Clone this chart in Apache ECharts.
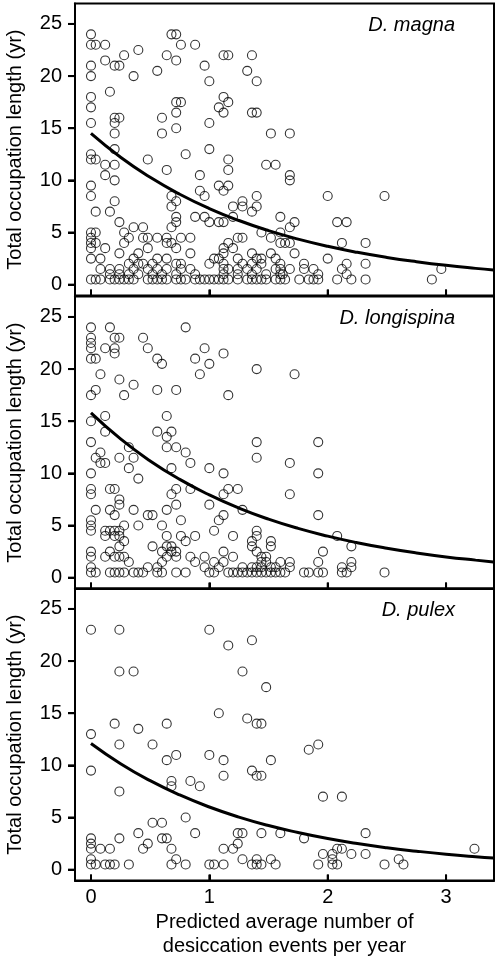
<!DOCTYPE html>
<html>
<head>
<meta charset="utf-8">
<script src="https://cdn.jsdelivr.net/npm/echarts@6/dist/echarts.min.js"></script>
<style>
html,body{margin:0;padding:0;background:#fff;}
#c{width:498px;height:973px;}
</style>
</head>
<body>
<div id="c"></div>
<script>
// ---- data ----
const panelNames = ['D. magna', 'D. longispina', 'D. pulex'];
const yTicks = [0, 5, 10, 15, 20, 25];
const xTicks = [0, 1, 2, 3];
const yTitle = 'Total occupation length (yr)';
const xTitle = 'Predicted average number of\ndesiccation events per year';

const magnaPoints = [
[0,24],[0.68,24],[0.72,24],
[0,23],[0.04,23],[0.12,23],[0.76,23],[0.88,23],
[0.4,22.5],
[0.28,22],[0.64,22],[1.12,22],[1.16,22],[1.36,22],
[0.12,21.5],[0.72,21.5],
[0,21],[0.2,21],[0.24,21],[0.96,21],
[0.56,20.5],[1.32,20.5],
[0,20],[0.36,20],
[1.0,19.5],[1.4,19.5],
[0.16,18.5],
[0,18],[1.12,18],
[0.72,17.5],[0.76,17.5],[1.16,17.5],
[0,17],[1.08,17],
[0.72,16.5],[1.12,16.5],[1.36,16.5],[1.4,16.5],
[0.2,16],[0.24,16],[0.6,16],
[0,15.5],[0.2,15.5],[1.0,15.5],
[0.72,15],
[0.2,14.5],[0.6,14.5],[1.52,14.5],[1.68,14.5],
[0.2,13],[1.0,13],
[0,12.5],[0.8,12.5],
[0,12],[0.04,12],[0.12,11.5],[0.2,11.5],[0.48,12],[1.16,12],[0.64,11],[1.16,11],[1.48,11.5],[1.56,11.5],
[0.12,10.5],[0.2,10],[0.92,10.5],[0,9.5],[1.08,9.5],[1.16,9.5],[0.92,9],[1.12,9],
[0,8.5],[0.68,8.5],[0.96,8.5],[1.4,8.5],[0.2,8],[0.72,8],[1.28,8],
[0.68,7.5],[1.2,7.5],[1.28,7.5],[1.4,7.5],[0.04,7],[0.16,7],[1.36,7],
[0.72,6.5],[0.88,6.5],[0.96,6.5],[1.2,6.5],[1.6,6.5],
[0.24,6],[0.72,6],[1.0,6],[1.08,6],[1.12,6],
[0.36,5.5],[0.44,5.5],[0.68,5.5],
[0,5],[0.04,5],[0.28,5],[1.44,5],[1.6,5],
[0,4.5],[0.32,4.5],[0.44,4.5],[0.48,4.5],[0.56,4.5],[0.64,4.5],[0.76,4.5],[0.84,4.5],[1.24,4.5],[1.28,4.5],[1.52,4.5],
[0,4],[0.04,4],[0.28,4],[0.64,4],[0.68,4],[1.16,4],[1.6,4],
[0,3.5],[0.12,3.5],[0.48,3.5],[0.72,3.5],[1.12,3.5],[1.2,3.5],
[0.24,3],[0.4,3],[0.84,3],[1.12,3],[1.36,3],[1.52,3],
[0,2.5],[0.08,2.5],[0.36,2.5],[0.56,2.5],[0.64,2.5],[1.04,2.5],[1.08,2.5],[1.24,2.5],[1.4,2.5],[1.44,2.5],[1.56,2.5],
[0.32,2],[0.4,2],[0.44,2],[0.52,2],[0.72,2],[0.76,2],[1.0,2],[1.12,2],[1.28,2],[1.36,2],[1.44,2],[1.6,2],
[0.08,1.5],[0.16,1.5],[0.24,1.5],[0.36,1.5],[0.48,1.5],[0.56,1.5],[0.64,1.5],[0.76,1.5],[0.84,1.5],[1.12,1.5],[1.16,1.5],[1.24,1.5],[1.32,1.5],[1.4,1.5],[1.56,1.5],[1.6,1.5],
[0.16,1],[0.24,1],[0.32,1],[0.4,1],[0.52,1],[0.6,1],[0.72,1],[0.88,1],[1.12,1],[1.24,1],[1.36,1],[1.48,1],[1.6,1],
[0,0.5],[0.04,0.5],[0.08,0.5],[0.16,0.5],[0.2,0.5],[0.24,0.5],[0.28,0.5],[0.32,0.5],[0.36,0.5],[0.48,0.5],[0.52,0.5],[0.56,0.5],[0.6,0.5],[0.64,0.5],[0.72,0.5],[0.76,0.5],[0.8,0.5],[0.88,0.5],[0.92,0.5],[0.96,0.5],[1.0,0.5],[1.04,0.5],[1.08,0.5],[1.12,0.5],[1.16,0.5],[1.24,0.5],[1.32,0.5],[1.36,0.5],[1.4,0.5],[1.44,0.5],[1.48,0.5],[1.56,0.5],[1.6,0.5],
[1.68,10.5],[1.68,10],[2.0,8.5],[2.48,8.5],[1.72,6],[1.68,5.5],[2.08,6],[2.16,6],[1.64,4],[1.68,4],[2.12,4],[2.32,4],[1.72,3],[2.0,2.5],[1.68,1.5],[1.8,2],[1.8,1.5],[1.88,1.5],[1.92,1],[2.16,2],[2.12,1.5],[2.16,1],[2.32,2],[2.96,1.5],[1.62,1],
[1.64,0.5],[1.76,0.5],[1.84,0.5],[1.88,0.5],[1.92,0.5],[2.08,0.5],[2.2,0.5],[2.32,0.5],[2.88,0.5]
];

const longispinaPoints = [
[0,24],[0.16,24],[0.8,24],
[0,23],[0.2,23],[0.24,23],[0.44,23],
[0,22.5],
[0,22],[0.12,22],[0.2,22],[0.48,22],[0.96,22],
[0.2,21.5],[1.12,21.5],
[0,21],[0.04,21],[0.56,21],[0.88,21],
[0.6,20.5],[1.0,20.5],
[1.4,20],
[0.08,19.5],[0.92,19.5],[1.72,19.5],
[0.24,19],
[0.36,18.5],
[0.04,18],[0.56,18],[0.72,18],
[0,17.5],[0.28,17.5],[1.16,17.5],
[0.12,15.5],[0.64,15.5],
[0,15],
[0.12,14],[0.56,14],[0.68,14],
[0.64,13.5],
[0,13],[1.4,13],[1.92,13],
[0.08,12],[0.64,12.5],[0.72,12.5],[0.8,12],[0.32,12.5],
[0.04,11.5],[0.08,11],[0.12,11],[0.24,11.5],[0.36,11.5],[0.84,11],[1.4,11.5],
[0.32,10.5],[0.68,10.5],[1.0,10.5],[0,10],[1.12,10],[0.4,9.5],
[0,8.5],[0,8],[0.16,8.5],[0.2,8.5],[0.72,8.5],[0.84,8.5],[1.16,8.5],[1.24,8.5],
[0.68,8],[1.12,8],[0.24,7.5],[0.24,7],[0.72,7],[1.0,7],
[0.04,6.5],[0.16,6.5],[0.36,6.5],[0.64,6.5],[1.28,6.5],
[0.2,6],[0.48,6],[0.52,6],[1.12,6],
[0,5.5],[0.76,5.5],[1.08,5.5],
[0,5],[0.28,5],[0.4,5],[0.6,5],
[0,4.5],[0.12,4.5],[0.16,4.5],[0.2,4.5],[0.24,4.5],[1.04,4.5],[1.4,4.5],
[0.12,4],[0.2,4],[0.24,4],[0.64,4],[0.76,4],[0.88,4],[1.2,4],[1.4,4],
[0.28,3.5],[0.8,3.5],[1.36,3.5],[1.52,3.5],
[0.24,3],[0.52,3],[0.64,3],[0.68,3],[1.36,3],[1.52,3],
[0,2.5],[0.16,2.5],[0.6,2.5],[0.68,2.5],[0.72,2.5],[1.12,2.5],[1.4,2.5],
[0,2],[0.12,2],[0.2,2],[0.24,2],[0.28,2],[0.64,2],[0.72,2],[0.84,2],[0.96,2],[1.2,2],[1.44,2],[1.48,2],
[0.32,1.5],[0.6,1.5],[0.88,1.5],[1.04,1.5],[1.12,1.5],[1.44,1.5],[1.48,1.5],[1.6,1.5],
[0,1],[0.48,1],[0.56,1],[0.96,1],[1.08,1],[1.28,1],[1.36,1],[1.4,1],[1.44,1],[1.52,1],[1.56,1],
[0,0.5],[0.04,0.5],[0.16,0.5],[0.2,0.5],[0.24,0.5],[0.28,0.5],[0.36,0.5],[0.4,0.5],[0.44,0.5],[0.56,0.5],[0.6,0.5],[0.72,0.5],[0.8,0.5],[1.0,0.5],[1.04,0.5],[1.16,0.5],[1.2,0.5],[1.24,0.5],[1.28,0.5],[1.32,0.5],[1.36,0.5],[1.4,0.5],[1.44,0.5],[1.48,0.5],[1.52,0.5],[1.56,0.5],[1.6,0.5],
[1.68,11],[1.92,10],[1.68,8],[1.92,6],[2.08,4],[2.2,3],[1.96,2.5],[1.68,1.5],[1.92,1.5],[2.2,1.5],[1.68,1],[2.12,1],[2.2,1],
[1.64,0.5],[1.8,0.5],[1.84,0.5],[1.92,0.5],[1.96,0.5],[2.12,0.5],[2.16,0.5],[2.48,0.5]
];

const pulexPoints = [
[0,23],[0.24,23],[1.0,23],[1.16,21.5],[1.36,22],[0.24,19],[0.36,19],[1.28,19],[1.48,17.5],[1.08,15],[1.32,14.5],[1.4,14],[1.44,14],[0.2,14],[0.4,13.5],[0.64,14],[0,13],
[0.24,12],[0.52,12],[0.64,10.5],[0.72,11],[1.0,11],[1.12,10.5],[1.52,10.5],
[0,9.5],[1.36,9.5],[1.4,9],[1.44,9],[1.12,9],
[0.68,8.5],[0.68,8],[0.84,8.5],[0.92,8],[0.24,7.5],[0.8,5],[0.52,4.5],[0.6,4.5],
[0.4,3.5],[0.88,3.5],[1.24,3.5],[1.28,3.5],[1.44,3.5],[1.6,3.5],
[0,3],[0.24,3],[0.6,3],[0.64,3],[0,2.5],[0.48,2.5],[1.24,2.5],
[0,2],[0.08,2],[0.16,2],[0.44,2],[0.68,2],[1.12,2],[1.2,2],
[0,1],[0.72,1],[1.28,1],[1.4,1],[1.52,1],
[0,0.5],[0.04,0.5],[0.12,0.5],[0.16,0.5],[0.2,0.5],[0.32,0.5],[0.68,0.5],[0.8,0.5],[1.0,0.5],[1.04,0.5],[1.12,0.5],[1.36,0.5],[1.4,0.5],[1.44,0.5],[1.56,0.5],
[1.84,11.5],[1.92,12],[1.96,7],[2.12,7],[2.32,3.5],[1.8,3],[3.24,2],[2.08,2],[2.12,2],[1.96,1.5],[2.04,1.5],[2.2,1.5],[2.32,1.5],[2.04,1],[2.6,1],
[1.92,0.5],[2.04,0.5],[2.08,0.5],[2.48,0.5],[2.64,0.5]
];

// fitted curves
const curveX = [0,0.25,0.5,0.75,1,1.25,1.5,1.75,2,2.25,2.5,2.75,3,3.25,3.4];
const magnaCurve = [14.5,12.21,10.29,8.67,7.30,6.15,5.18,4.37,3.68,3.10,2.61,2.20,1.85,1.56,1.41];
const longispinaCurve = [15.8,13.30,11.19,9.42,7.93,6.67,5.61,4.72,3.98,3.35,2.82,2.37,1.99,1.68,1.51];
const pulexCurve = [12.1,10.16,8.53,7.16,6.01,5.04,4.23,3.56,2.98,2.50,2.10,1.77,1.48,1.24,1.12];

// ---- chart ----
const FONT = '"Liberation Sans", Arial, Helvetica, sans-serif';
const allPoints = [magnaPoints, longispinaPoints, pulexPoints];
const allCurves = [magnaCurve, longispinaCurve, pulexCurve];
const gridTops = [3.6, 296.6, 588.6];
const X_MIN = -0.135, X_MAX = 3.405, Y_MIN = -1.05, Y_MAX = 26.95;
const Y_TICK_LEN = 7, X_TICK_LEN = 6;

const chart = echarts.init(document.getElementById('c'), null, {renderer: 'canvas'});

const lineStyle = {color: '#000', width: 2};
const grids = [], xAxes = [], yAxes = [], series = [], graphics = [];
for (let i = 0; i < 3; i++) {
  grids.push({left: 75, top: gridTops[i], width: 419, height: 292, show: true,
    borderColor: '#000', borderWidth: 2, backgroundColor: 'transparent',
    containLabel: false, outerBoundsMode: 'none'});
  const last = i === 2;
  xAxes.push({
    type: 'value', gridIndex: i, min: X_MIN, max: X_MAX, position: 'bottom',
    axisLine: {show: true, onZero: false, lineStyle: lineStyle},
    splitLine: {show: false},
    axisTick: {show: true, inside: true, length: X_TICK_LEN, lineStyle: lineStyle, customValues: xTicks},
    axisLabel: {show: last, customValues: xTicks, color: '#000', fontSize: 20, fontFamily: FONT, margin: 7},
    name: last ? xTitle : '', nameLocation: 'middle', nameGap: 30, nameMoveOverlap: false,
    nameTextStyle: {color: '#000', fontSize: 20, fontFamily: FONT, lineHeight: 24}
  });
  yAxes.push({
    type: 'value', gridIndex: i, min: Y_MIN, max: Y_MAX, position: 'left',
    axisLine: {show: true, onZero: false, lineStyle: lineStyle},
    splitLine: {show: false},
    axisTick: {show: true, inside: false, length: Y_TICK_LEN, lineStyle: lineStyle, customValues: yTicks},
    axisLabel: {customValues: yTicks, color: '#000', fontSize: 20, fontFamily: FONT, margin: 13},
    name: yTitle, nameLocation: 'middle', nameGap: 50, nameRotate: 90, nameMoveOverlap: false,
    nameTextStyle: {color: '#000', fontSize: 20, fontFamily: FONT}
  });
}

// tick marks placed through the axes' own scales (value -> pixel via api.coord)
function tickRender(params, api) {
  const kind = api.value(2);
  const p = api.coord([api.value(0), api.value(1)]);
  const shape = kind === 0
    ? {x1: p[0] - Y_TICK_LEN, y1: p[1], x2: p[0], y2: p[1]}
    : {x1: p[0], y1: p[1], x2: p[0], y2: p[1] - X_TICK_LEN};
  return {type: 'line', shape: shape, style: {stroke: '#000', lineWidth: 2}};
}
const tickData = yTicks.map(v => [X_MIN, v, 0]).concat(xTicks.map(v => [v, Y_MIN, 1]));

for (let i = 0; i < 3; i++) {
  series.push({
    type: 'scatter', xAxisIndex: i, yAxisIndex: i, data: allPoints[i],
    symbol: 'circle', symbolSize: 9,
    itemStyle: {color: 'rgba(0,0,0,0)', borderColor: '#000', borderWidth: 1.1},
    emphasis: {disabled: true}, silent: true
  });
  series.push({
    type: 'line', xAxisIndex: i, yAxisIndex: i,
    data: curveX.map((x, k) => [x, allCurves[i][k]]),
    smooth: true, showSymbol: false, symbol: 'none',
    lineStyle: {color: '#000', width: 3}, silent: true, z: 3
  });
  series.push({
    type: 'custom', xAxisIndex: i, yAxisIndex: i, data: tickData,
    renderItem: tickRender, clip: false, silent: true, z: 5
  });
  graphics.push({
    type: 'text', right: 43, top: gridTops[i] + 12,
    style: {text: panelNames[i], font: 'italic 20px ' + FONT, fill: '#000'}
  });
}

chart.setOption({
  animation: false,
  backgroundColor: '#fff',
  grid: grids, xAxis: xAxes, yAxis: yAxes, series: series,
  graphic: graphics
});
</script>
</body>
</html>
